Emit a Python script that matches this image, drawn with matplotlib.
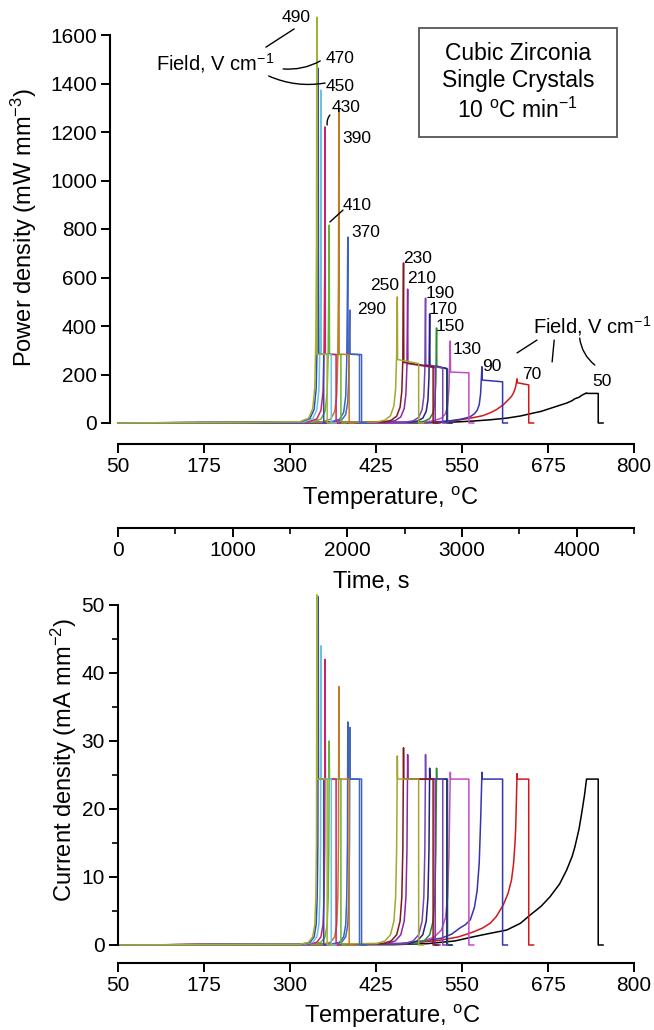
import matplotlib
matplotlib.use("Agg")
import matplotlib.pyplot as plt
from matplotlib.patches import Rectangle
from matplotlib.ticker import MultipleLocator

plt.rcParams["font.family"] = ["Liberation Sans", "DejaVu Sans"]
plt.rcParams["mathtext.fontset"] = "custom"
plt.rcParams["mathtext.rm"] = "Liberation Sans"
plt.rcParams["mathtext.it"] = "Liberation Sans:italic"
plt.rcParams["mathtext.bf"] = "Liberation Sans:bold"

# field strengths (V/cm), one curve each
fields = [490, 470, 450, 430, 410, 390, 370, 290, 250, 230, 210, 190, 170, 150, 130, 90, 70, 50]
colors = ["#a3b135", "#3048b8", "#6cc4dc", "#d0206c", "#64b432", "#c47a22", "#3a62c4", "#4a68b4",
          "#a6a630", "#801a1a", "#8a28a6", "#7444b4", "#22227e", "#2a8a2a", "#c44cc4", "#3434b4",
          "#d41818", "#000000"]

# temperature of the flash spike and of the switch-off (deg C)
t_peak = [339, 341, 345, 351, 357, 371, 384, 387, 456, 465, 471, 497, 503, 513, 533, 579, 630, 731]
t_end = [354, 349, 360, 367, 374, 386, 404, 401, 487, 508, 511, 522, 528, 529, 560, 609, 647, 748]

# power density (mW mm^-3): spike, plateau start, plateau end
p_peak = [1674, 1463, 1373, 1221, 816, 1299, 767, 466, 520, 660, 552, 515, 450, 392, 338, 232, 182, 124]
p_plat0 = [284, 284, 284, 284, 284, 284, 284, 284, 262, 250, 245, 240, 238, 235, 210, 177, 166, 122]
p_plat1 = [283, 283, 282, 282, 282, 282, 282, 282, 245, 232, 228, 226, 225, 222, 207, 170, 157, 122]

# current density (mA mm^-2): spike and current-limited plateau
j_peak = [51.5, 51.2, 44, 42, 30, 38, 32.8, 32, 27.8, 29, 28, 28, 26, 26, 25.4, 25.4, 25.2, 24.4]
j_plat = 24.4

# rise before the spike: temperatures, current and power
rise_T = [
    [314, 327, 333, 336, 337.5, 338.5],
    [316, 329, 335, 338, 339.5, 340.5],
    [320, 333, 339, 342, 343.5, 344.5],
    [326, 339, 345, 348, 349.5, 350.5],
    [332, 345, 351, 354, 355.5, 356.5],
    [346, 359, 365, 368, 369.5, 370.5],
    [359, 372, 378, 381, 382.5, 383.5],
    [362, 375, 381, 384, 385.5, 386.5],
    [426, 438, 446, 451, 453.5, 455],
    [435, 447, 455, 460, 462.5, 464],
    [441, 453, 461, 466, 468.5, 470],
    [467, 479, 487, 492, 494.5, 496],
    [473, 485, 493, 498, 500.5, 502],
    [483, 495, 503, 508, 510.5, 512],
    [470, 495, 510, 520, 526, 529, 531],
    [460, 500, 520, 535, 547, 555, 562, 568, 572, 575, 577],
    [470, 518, 545, 566, 580, 591, 600, 610, 617, 622, 625, 627, 628, 629],
    [450, 500, 540, 566, 590, 615, 635, 649, 665, 678, 692, 702, 710, 714, 720, 724, 728],
]
rise_J = [
    [0.1, 0.4, 1.2, 3, 7, 15],
    [0.1, 0.4, 1.2, 3, 7, 15],
    [0.1, 0.4, 1.2, 3, 7, 15],
    [0.1, 0.4, 1.2, 3, 7, 15],
    [0.1, 0.4, 1.2, 3, 7, 15],
    [0.1, 0.4, 1.2, 3, 7, 15],
    [0.1, 0.4, 1.2, 3, 7, 15],
    [0.1, 0.4, 1.2, 3, 7, 15],
    [0.2, 0.6, 1.5, 3.5, 7, 14],
    [0.2, 0.6, 1.5, 3.5, 7, 14],
    [0.2, 0.6, 1.5, 3.5, 7, 14],
    [0.2, 0.6, 1.5, 3.5, 7, 14],
    [0.2, 0.6, 1.5, 3.5, 7, 14],
    [0.2, 0.6, 1.5, 3.5, 7, 14],
    [0.2, 0.6, 1.2, 2.2, 4, 7, 13],
    [0.2, 0.7, 1.0, 1.6, 2.5, 3.0, 3.7, 5.5, 8, 12, 18],
    [0.2, 0.7, 1.2, 1.9, 2.5, 3.2, 4.2, 5.9, 7.6, 9.6, 12, 15, 17, 21],
    [0.05, 0.2, 0.6, 1.2, 1.7, 2.2, 3.2, 4.4, 5.7, 7.1, 9.0, 11, 13, 14.4, 17, 19.4, 22],
]
rise_P = [
    [5, 20, 59, 147, 343, 735],
    [5, 19, 56, 141, 329, 705],
    [4, 18, 54, 135, 315, 675],
    [4, 17, 52, 129, 301, 645],
    [4, 16, 49, 123, 287, 600],
    [4, 16, 47, 117, 273, 585],
    [4, 15, 44, 111, 259, 555],
    [3, 12, 35, 87, 203, 435],
    [4, 12, 30, 70, 140, 280],
    [4, 11, 28, 65, 130, 260],
    [3, 10, 25, 60, 120, 240],
    [3, 9, 23, 55, 110, 220],
    [3, 8, 20, 48, 95, 190],
    [3, 7, 18, 42, 85, 170],
    [0, 4, 10, 20, 38, 70, 140],
    [0, 3, 6, 10, 15, 20, 26, 38, 52, 75, 120],
    [0, 4, 12, 22, 30, 42, 55, 75, 95, 110, 125, 140, 150, 165],
    [0, 1, 4, 8, 13, 20, 29, 38, 48, 60, 73, 82, 92, 100, 106, 114, 120],
]

# field labels in the power panel: temperature, power
label_T = [309, 373, 373, 381, 397, 397, 410, 419, 438, 485, 492, 518, 523, 533, 557, 593, 652, 753]
label_P = [1674, 1505, 1386, 1303, 895, 1175, 784, 470, 565, 680, 594, 536, 466, 396, 305, 235, 198, 173]

W, H = 654, 1030
fig = plt.figure(figsize=(W / 100, H / 100), dpi=100)


def fx(px):
    return px / W


def fy(py):
    return 1 - py / H


ax_top = fig.add_axes([fx(118), fy(423), (634 - 118) / W, 1720 * 0.2425 / H])
ax_bot = fig.add_axes([fx(118), fy(945), (634 - 118) / W, 52 * 6.8 / H])

for i in reversed(range(len(fields))):
    tp, te = t_peak[i], t_end[i]
    temps = [50] + rise_T[i] + [tp, tp + 0.4, te, te + 0.01, te + 7]
    power = [0] + rise_P[i] + [p_peak[i], p_plat0[i], p_plat1[i], 0, 0]
    current = [0] + rise_J[i] + [j_peak[i], j_plat, j_plat, 0, 0]
    ax_top.plot(temps, power, color=colors[i], lw=1.1, clip_on=False)
    ax_bot.plot(temps, current, color=colors[i], lw=1.1, clip_on=False)

tick_fs = 15
for ax, ymax, ytop, ystep, left_out, bot_out in [(ax_top, 1720, 1600, 200, 8, 21), (ax_bot, 52, 50, 10, 0, 18)]:
    ax.set_xlim(50, 800)
    ax.set_ylim(0, ymax)
    ax.patch.set_visible(False)
    for s in ["top", "right"]:
        ax.spines[s].set_visible(False)
    ax.spines["left"].set_position(("outward", left_out * 0.72))
    ax.spines["bottom"].set_position(("outward", bot_out * 0.72))
    ax.spines["left"].set_bounds(0, ytop)
    ax.spines["bottom"].set_bounds(50, 800)
    for s in ["left", "bottom"]:
        ax.spines[s].set_linewidth(1.5)
    ax.set_xticks(range(50, 801, 125))
    ax.yaxis.set_major_locator(MultipleLocator(ystep))
    ax.tick_params(direction="out", length=6.5, width=1.4, labelsize=tick_fs, pad=3)

ax_bot.yaxis.set_minor_locator(MultipleLocator(5))
ax_bot.tick_params(which="minor", direction="out", length=4, width=1.2)

# time axis between the panels
ax_time = fig.add_axes([fx(118), fy(528), (634 - 118) / W, 0.0001])
ax_time.set_xlim(0, 4500)
ax_time.patch.set_visible(False)
for s in ["top", "right", "left"]:
    ax_time.spines[s].set_visible(False)
ax_time.spines["bottom"].set_linewidth(1.5)
ax_time.set_yticks([])
ax_time.xaxis.set_major_locator(MultipleLocator(1000))
ax_time.xaxis.set_minor_locator(MultipleLocator(500))
ax_time.tick_params(direction="out", length=6.5, width=1.4, labelsize=tick_fs, pad=3)
ax_time.tick_params(which="minor", direction="out", length=4, width=1.2)

# axis titles
lab_fs = 17
fig.text(fx(24), fy(228), "Power density (mW mm$^{-3}$)", rotation=90, ha="center", va="center", fontsize=lab_fs)
fig.text(fx(390), fy(498), "Temperature, $^{\\mathrm{o}}$C", ha="center", va="center", fontsize=lab_fs)
fig.text(fx(371), fy(582), "Time, s", ha="center", va="center", fontsize=lab_fs)
fig.text(fx(64), fy(760), "Current density (mA mm$^{-2}$)", rotation=90, ha="center", va="center", fontsize=lab_fs)
fig.text(fx(392), fy(1016), "Temperature, $^{\\mathrm{o}}$C", ha="center", va="center", fontsize=lab_fs)

# field labels
for f, lt, lp in zip(fields, label_T, label_P):
    ax_top.text(lt, lp, str(f), ha="center", va="center", fontsize=12.5)

ax_top.text(191, 1484, "Field, V cm$^{-1}$", ha="center", va="center", fontsize=14.5)
ax_top.text(739, 400, "Field, V cm$^{-1}$", ha="center", va="center", fontsize=14.5)

leader = dict(arrowstyle="-", lw=1.0, color="black", shrinkA=0, shrinkB=0)
for (x0, y0), (x1, y1), rad in [
    ((265, 1550), (306, 1625), 0.0),
    ((290, 1460), (344, 1493), 0.15),
    ((269, 1431), (351, 1402), 0.15),
    ((354, 1229), (358, 1270), -0.2),
    ((358, 829), (377, 878), 0.0),
    ((630, 289), (659, 342), 0.0),
    ((681, 252), (684, 342), 0.0),
    ((721, 350), (743, 239), 0.2),
]:
    ax_top.annotate("", xy=(x1, y1), xytext=(x0, y0),
                    arrowprops=dict(leader, connectionstyle=f"arc3,rad={rad}"))

# title box
fig.add_artist(Rectangle((fx(419), fy(137)), 198 / W, 109 / H, transform=fig.transFigure,
                         fill=False, edgecolor="#555555", lw=1.3))
for txt, py in [("Cubic Zirconia", 53), ("Single Crystals", 81), ("10 $^{\\mathrm{o}}$C min$^{-1}$", 110)]:
    fig.text(fx(518), fy(py), txt, ha="center", va="center", fontsize=16.5)

fig.savefig("out.png", dpi=100)
